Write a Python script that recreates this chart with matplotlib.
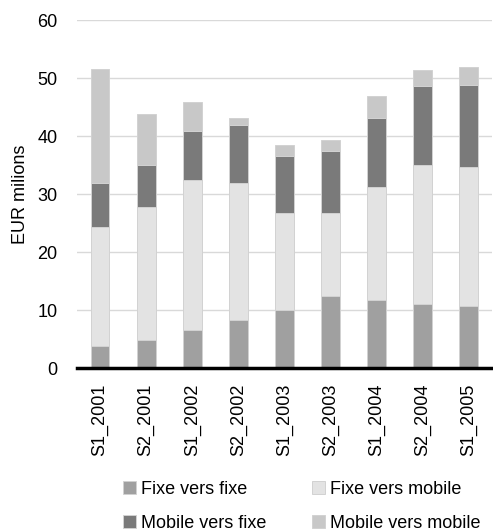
import numpy as np
import matplotlib.pyplot as plt

plt.rcParams['font.family'] = ['Liberation Sans', 'DejaVu Sans']

periods = ['S1_2001', 'S2_2001', 'S1_2002', 'S2_2002', 'S1_2003',
           'S2_2003', 'S1_2004', 'S2_2004', 'S1_2005']
fixe_fixe = [3.9, 4.9, 6.6, 8.3, 10.1, 12.4, 11.7, 11.0, 10.8]
fixe_mobile = [20.5, 22.9, 25.9, 23.6, 16.6, 14.4, 19.6, 24.1, 23.9]
mobile_fixe = [7.6, 7.3, 8.4, 10.0, 9.9, 10.7, 11.9, 13.5, 14.2]
mobile_mobile = [19.6, 8.7, 5.0, 1.3, 1.9, 1.9, 3.7, 2.8, 3.1]
labels = ['Fixe vers fixe', 'Fixe vers mobile', 'Mobile vers fixe', 'Mobile vers mobile']
colors = ['#a0a0a0', '#e3e3e3', '#7a7a7a', '#c8c8c8']

fig = plt.figure(figsize=(4.93, 5.32), dpi=100)
ax = fig.add_axes([0.156, 0.308, 0.842, 0.654])

ind = np.arange(len(periods))
width = 0.41
bottom = np.zeros(len(periods))
handles = []
for vals, col, lab in zip([fixe_fixe, fixe_mobile, mobile_fixe, mobile_mobile], colors, labels):
    b = ax.bar(ind, vals, width, bottom=bottom, color=col, edgecolor='#d2d2d2',
               linewidth=0.7, label=lab, zorder=3)
    handles.append(b)
    bottom += np.array(vals)

ax.set_xlim(-0.5, len(periods) - 0.5)
ax.set_ylim(0, 60)
ax.set_yticks(np.arange(0, 61, 10))
ax.set_xticks(ind)
ax.set_xticklabels(periods, rotation=90, fontsize=13)
ax.tick_params(axis='y', labelsize=13, length=0, pad=14)
ax.tick_params(axis='x', length=0, pad=11)
ax.yaxis.grid(True, color='#d9d9d9', linewidth=1, zorder=0)
for s in ['top', 'right', 'left']:
    ax.spines[s].set_visible(False)
ax.spines['bottom'].set_linewidth(2.5)
ax.spines['bottom'].set_color('black')
ax.spines['bottom'].set_zorder(4)
ax.set_ylabel('EUR milions', fontsize=13, labelpad=6)

# matplotlib fills legend columns first, so reorder to get row-wise layout
order = [0, 2, 1, 3]
fig.legend(handles=[handles[i] for i in order], loc='upper left', bbox_to_anchor=(0.249, 0.096),
           ncol=2, frameon=False, fontsize=13, handlelength=0.72, handleheight=0.72,
           handletextpad=0.28, columnspacing=2.55, labelspacing=0.95, borderpad=0,
           borderaxespad=0)

fig.savefig('out.png', dpi=100)
